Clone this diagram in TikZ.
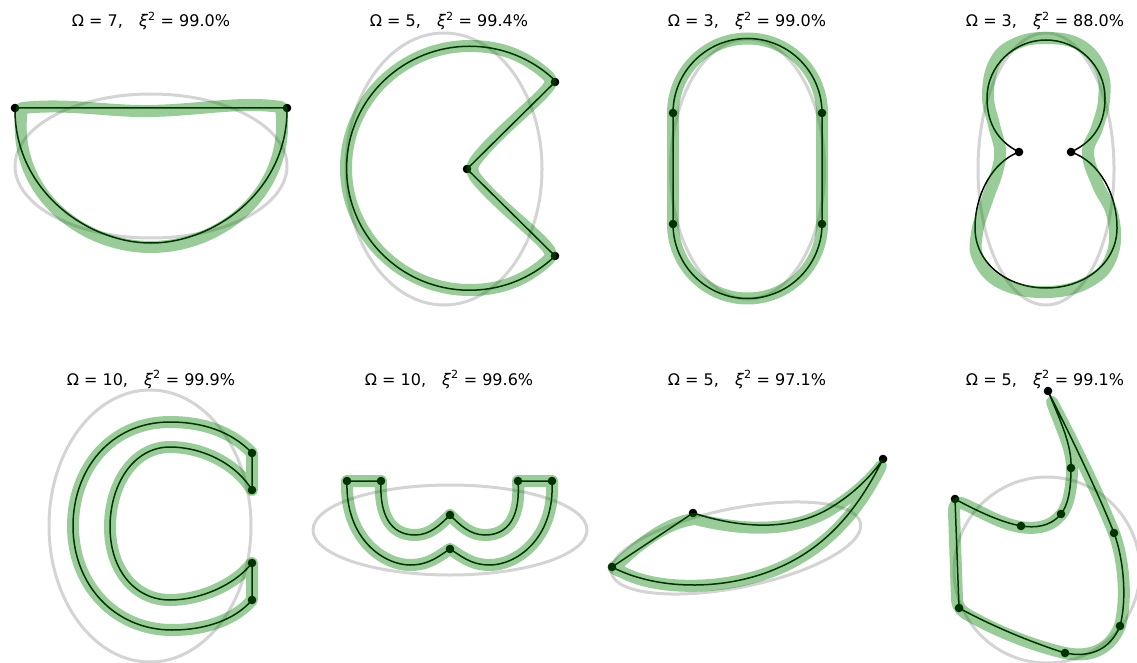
\documentclass[tikz,border=0pt]{standalone}
\usepackage{fontspec}
\setmainfont{DejaVu Sans}
\definecolor{fitgreen}{RGB}{0,128,0}
\def\score#1#2{Ω = #1,\quad\textit{ξ}\textsuperscript{2} = #2\%}

\begin{document}
\begin{tikzpicture}[x=1pt,y=-1pt,
  refell/.style={draw=black!17,line width=3pt},
  fitband/.style={draw=fitgreen,line width=12pt,opacity=.4,line join=round,line cap=round},
  modelline/.style={draw=black,line width=1.5pt,line join=round},
  paneltitle/.style={anchor=base,font=\fontsize{16}{19}\selectfont}]
 \useasboundingbox (0,0) rectangle (1137,663);
 % titles
 \node[paneltitle] (t1) at (151,27) {\score{7}{99.0}};
 \node[paneltitle] (t2) at (449,27) {\score{5}{99.4}};
 \node[paneltitle] (t3) at (747,27) {\score{3}{99.0}};
 \node[paneltitle] (t4) at (1045,27) {\score{3}{88.0}};
 \node[paneltitle] (t5) at (151,385) {\score{10}{99.9}};
 \node[paneltitle] (t6) at (449,385) {\score{10}{99.6}};
 \node[paneltitle] (t7) at (747,385) {\score{5}{97.1}};
 \node[paneltitle] (t8) at (1045,385) {\score{5}{99.1}};

 % half disc
 \draw[refell] (151,166) ellipse[x radius=136,y radius=72];
 \draw[modelline] (15,108) -- (287,108) .. controls (288,190) and (215,243) .. (151,243)
   .. controls (87,243) and (14,190) .. cycle;
 \foreach \p in {(15,108),(287,108)} \fill \p circle[radius=4.3];
 \draw[fitband] (22,108) .. controls (70,103) and (110,112) .. (151,111)
   .. controls (200,110) and (240,101) .. (281,107) .. controls (292,190) and (222,247) .. (151,247)
   .. controls (80,247) and (10,190) .. cycle;

 % pacman
 \draw[refell] (444,169) ellipse[x radius=98,y radius=136];
 \draw[modelline] (555,82) -- (467,169) -- (555,256)
   arc[start angle=-314,end angle=-46,x radius=123,y radius=122] -- cycle;
 \foreach \p in {(555,82),(467,169),(555,256)} \fill \p circle[radius=4.3];
 \draw[fitband] (476,160) .. controls (495,135) and (530,108) .. (546,90)
   .. controls (552,83) and (552,80) .. (548,76) .. controls (525,55) and (500,46) .. (470,46)
   .. controls (402,46) and (346,101) .. (346,168) .. controls (346,235) and (402,290) .. (470,290)
   .. controls (500,290) and (525,281) .. (548,260) .. controls (552,256) and (552,253) .. (546,246)
   .. controls (530,228) and (495,202) .. (476,178) .. controls (471,171) and (471,167) .. cycle;

 % stadium
 \draw[refell] (747.5,169) ellipse[x radius=77,y radius=130];
 \draw[modelline] (673,113) -- (673,224) arc[start angle=180,end angle=0,radius=74.5]
   -- (822,113) arc[start angle=0,end angle=-180,radius=74.5] -- cycle;
 \foreach \p in {(673,113),(822,113),(673,224),(822,224)} \fill \p circle[radius=4.3];
 \draw[fitband] (673,113) -- (673,224) arc[start angle=180,end angle=0,radius=74.5]
   -- (822,113) arc[start angle=0,end angle=-180,radius=74.5] -- cycle;

 % two loops
 \draw[refell] (1046,169) ellipse[x radius=68,y radius=136];
 \draw[modelline] (1019,152) .. controls (995,140) and (987,120) .. (987,98)
   .. controls (987,66) and (1014,40) .. (1046,40) .. controls (1078,40) and (1105,66) .. (1105,98)
   .. controls (1105,120) and (1097,140) .. (1071,152)
   .. controls (1100,162) and (1117,195) .. (1117,228) .. controls (1117,263) and (1085,288) .. (1046,288)
   .. controls (1007,288) and (975,263) .. (975,228) .. controls (975,195) and (992,162) .. cycle;
 \foreach \p in {(1019,152),(1071,152)} \fill \p circle[radius=4.3];
 \draw[fitband] plot[smooth cycle,tension=.7] coordinates {(1046,38) (1080,45) (1101,70)
   (1104,100) (1097,128) (1088,153) (1098,185) (1113,217) (1112,255) (1090,281) (1048,292)
   (1003,284) (979,260) (977,233) (987,200) (997,172) (1000,150) (994,125) (988,95) (995,62)
   (1015,44)};

 % double C
 \draw[refell] (150,526) ellipse[x radius=101,y radius=136];
 \draw[modelline] (252,453) .. controls (230,430) and (200,422) .. (170,422)
   .. controls (110,422) and (73,470) .. (73,526) .. controls (73,585) and (115,630) .. (172,630)
   .. controls (205,630) and (235,620) .. (252,600) -- (252,563)
   .. controls (235,585) and (200,600) .. (170,600) .. controls (135,600) and (110,570) .. (110,527)
   .. controls (110,485) and (133,447) .. (170,447) .. controls (200,447) and (235,462) .. (252,490)
   -- cycle;
 \foreach \p in {(252,453),(252,490),(252,563),(252,600)} \fill \p circle[radius=4.3];
 \draw[fitband] (252,453) .. controls (230,430) and (200,422) .. (170,422)
   .. controls (110,422) and (73,470) .. (73,526) .. controls (73,585) and (115,630) .. (172,630)
   .. controls (205,630) and (235,620) .. (252,600) -- (252,563)
   .. controls (235,585) and (200,600) .. (170,600) .. controls (135,600) and (110,570) .. (110,527)
   .. controls (110,485) and (133,447) .. (170,447) .. controls (200,447) and (235,462) .. (252,490)
   -- cycle;

 % double W
 \draw[refell] (450,530) ellipse[x radius=137,y radius=45];
 \draw[modelline] (347,481) -- (381,481) .. controls (379,525) and (398,535) .. (415,535)
   .. controls (430,535) and (440,525) .. (450,515) .. controls (460,525) and (470,535) .. (485,535)
   .. controls (502,535) and (521,525) .. (518,481) -- (552,481)
   .. controls (555,540) and (515,565) .. (490,565) .. controls (470,565) and (460,555) .. (450,549)
   .. controls (440,555) and (430,565) .. (410,565) .. controls (385,565) and (345,540) .. cycle;
 \foreach \p in {(347,481),(381,481),(518,481),(552,481),(450,515),(450,549)}
   \fill \p circle[radius=4.3];
 \draw[fitband] (347,481) -- (381,481) .. controls (379,525) and (398,535) .. (415,535)
   .. controls (430,535) and (440,525) .. (450,515) .. controls (460,525) and (470,535) .. (485,535)
   .. controls (502,535) and (521,525) .. (518,481) -- (552,481)
   .. controls (555,540) and (515,565) .. (490,565) .. controls (470,565) and (460,555) .. (450,549)
   .. controls (440,555) and (430,565) .. (410,565) .. controls (385,565) and (345,540) .. cycle;

 % leaf
 \draw[refell,rotate around={11.3:(736,548)}] (736,548) ellipse[x radius=127,y radius=39.5];
 \draw[modelline] (612,567) -- (693,513) .. controls (740,528) and (790,532) .. (830,508)
   .. controls (855,493) and (872,475) .. (883,459) .. controls (860,505) and (830,545) .. (780,567)
   .. controls (730,590) and (660,592) .. cycle;
 \foreach \p in {(612,567),(693,513),(883,459)} \fill \p circle[radius=4.3];
 \draw[fitband] (616,566) .. controls (635,548) and (665,522) .. (695,519)
   .. controls (740,530) and (790,534) .. (830,510) .. controls (855,495) and (872,478) .. (881,466)
   .. controls (860,508) and (830,546) .. (780,568) .. controls (730,590) and (660,592) .. (622,572)
   .. controls (612,568) and (612,568) .. cycle;

 % hook
 \draw[refell] (1047,570) circle[radius=93];
 \draw[modelline] (1048,391) .. controls (1060,420) and (1072,445) .. (1071,468)
   .. controls (1071,490) and (1068,505) .. (1061,514) .. controls (1050,527) and (1035,528) .. (1021,526)
   .. controls (1000,522) and (975,510) .. (955,499) -- (959,608)
   .. controls (990,625) and (1030,642) .. (1065,653) .. controls (1090,658) and (1110,650) .. (1120,626)
   .. controls (1127,600) and (1124,560) .. (1114,533) .. controls (1095,485) and (1065,425) .. cycle;
 \foreach \p in {(1048,391),(1071,468),(1061,514),(1021,526),(955,499),(959,608),(1065,653),
   (1120,626),(1114,533)} \fill \p circle[radius=4.3];
 \draw[fitband] (1052,402) .. controls (1062,430) and (1073,450) .. (1072,472)
   .. controls (1071,495) and (1067,510) .. (1058,518) .. controls (1048,528) and (1034,529) .. (1020,527)
   .. controls (998,523) and (978,510) .. (964,504) .. controls (956,501) and (954,505) .. (954,512)
   -- (957,600) .. controls (958,608) and (962,612) .. (970,616)
   .. controls (995,630) and (1030,645) .. (1065,653) .. controls (1090,658) and (1110,650) .. (1120,626)
   .. controls (1127,600) and (1124,560) .. (1114,533) .. controls (1096,488) and (1068,432) .. cycle;
\end{tikzpicture}
\end{document}
